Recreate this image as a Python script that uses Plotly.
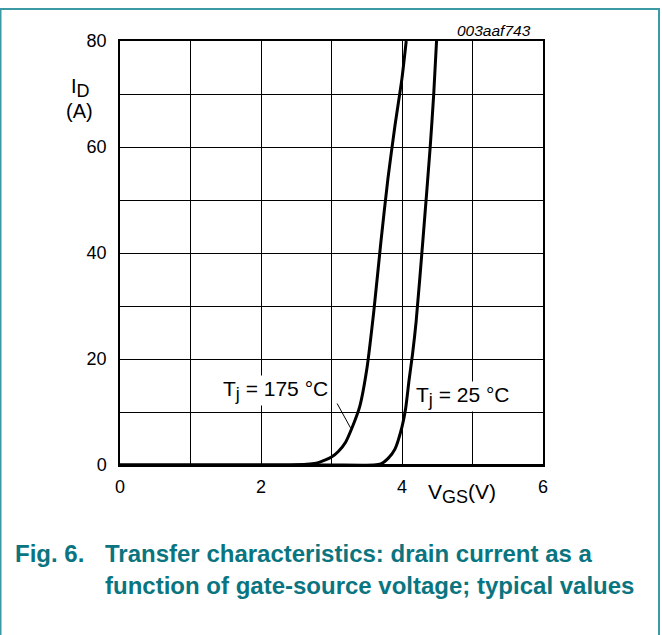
import plotly.graph_objects as go

# Data
vgs_175 = [0, 1, 2, 2.5, 2.8, 3.0, 3.1, 3.2, 3.3, 3.4, 3.5, 3.6, 3.7, 3.8, 3.9, 4.0, 4.06]
id_175 = [0, 0, 0, 0.05, 0.4, 1.5, 2.6, 4.3, 7.3, 11, 18, 29, 42, 54, 64, 73, 80]
vgs_25 = [0, 2, 3, 3.6, 3.7, 3.8, 3.9, 4.0, 4.05, 4.1, 4.15, 4.2, 4.3, 4.4, 4.45, 4.49]
id_25 = [0, 0, 0, 0, 0.2, 1.2, 3.0, 7.2, 10.5, 16, 21, 27, 43, 60, 70, 80]
x_ticks = [0, 2, 4, 6]
y_ticks = [0, 20, 40, 60, 80]

FONT = "Liberation Sans, Arial, sans-serif"
TEAL = "#0a7580"

fig = go.Figure()
for xs, ys in [(vgs_175, id_175), (vgs_25, id_25)]:
    fig.add_trace(go.Scatter(x=xs, y=ys, mode="lines",
                             line=dict(color="black", width=3, shape="spline", smoothing=0.6),
                             showlegend=False, hoverinfo="skip"))

W, H = 662, 635
L, R, T, B = 120, 543, 41, 465
def px(xp):
    return (xp - L) / (R - L)
def py(yp):
    return (B - yp) / (B - T)

fig.update_layout(
    width=W, height=H,
    margin=dict(l=L, r=W - R, t=T, b=H - B),
    paper_bgcolor="white", plot_bgcolor="white",
    font=dict(family=FONT, size=18, color="black"),
    xaxis=dict(range=[0, 6], tickmode="array", tickvals=[0, 1, 2, 3, 4, 5, 6],
               ticktext=["0", "", "2", "", "4", "", "6"],
               showgrid=True, gridcolor="black", gridwidth=1,
               showline=True, linecolor="black", linewidth=1.5, mirror=True,
               ticks="", zeroline=False, tickfont=dict(size=18), ticklabelstandoff=5),
    yaxis=dict(range=[0, 80], tickmode="array", tickvals=list(range(0, 81, 10)),
               ticktext=[str(v) if v in y_ticks else "" for v in range(0, 81, 10)],
               showgrid=True, gridcolor="black", gridwidth=1,
               showline=True, linecolor="black", linewidth=1.5, mirror=True,
               ticks="", zeroline=False, tickfont=dict(size=18), ticklabelstandoff=8),
)

# Border frame
fig.add_shape(type="rect", xref="paper", yref="paper",
              x0=px(0.5), x1=px(659), y0=py(645), y1=py(9),
              line=dict(color="#3b9aa3", width=2), layer="below")

# Thicker baseline along I=0
fig.add_shape(type="line", xref="x", yref="y", x0=0, x1=6, y0=0, y1=0,
              line=dict(color="black", width=2))

# Leader line for 175 C
fig.add_shape(type="line", xref="x", yref="y", x0=3.08, y0=11.6, x1=3.27, y1=7.0,
              line=dict(color="black", width=1))

SUB = "<sub><span style='font-size:18px'>{}</span></sub>"
ann = [
    dict(x=px(275), y=py(390), text="T" + SUB.format("j") + " = 175 °C", bgcolor="white", size=21),
    dict(x=px(463), y=py(396), text="T" + SUB.format("j") + " = 25 °C", bgcolor="white", size=21),
    dict(x=px(80), y=py(88), text="I" + SUB.format("D"), size=20),
    dict(x=px(79), y=py(111), text="(A)", size=20),
    dict(x=px(462), y=py(493), text="V" + SUB.format("GS") + "(V)", size=21),
]
for a in ann:
    s = a.pop("size")
    fig.add_annotation(xref="paper", yref="paper", showarrow=False,
                       xanchor="center", yanchor="middle",
                       font=dict(family=FONT, size=s, color="black"), borderpad=1, **a)

fig.add_annotation(xref="paper", yref="paper", x=px(533), y=py(30), showarrow=False,
                   xanchor="right", yanchor="middle", text="<i>003aaf743</i>",
                   font=dict(family=FONT, size=15.5, color="black"))

cap_font = dict(family=FONT, size=24, color=TEAL)
fig.add_annotation(xref="paper", yref="paper", x=px(13), y=py(553), showarrow=False,
                   xanchor="left", yanchor="middle", text="<b>Fig. 6.</b>", font=cap_font)
fig.add_annotation(xref="paper", yref="paper", x=px(103), y=py(553), showarrow=False,
                   xanchor="left", yanchor="middle",
                   text="<b>Transfer characteristics: drain current as a</b>", font=cap_font)
fig.add_annotation(xref="paper", yref="paper", x=px(103), y=py(585), showarrow=False,
                   xanchor="left", yanchor="middle",
                   text="<b>function of gate-source voltage; typical values</b>", font=cap_font)

fig.write_html("out.html", config={"displayModeBar": False},
               post_script="document.body.style.margin='0';document.body.style.overflow='hidden';")
